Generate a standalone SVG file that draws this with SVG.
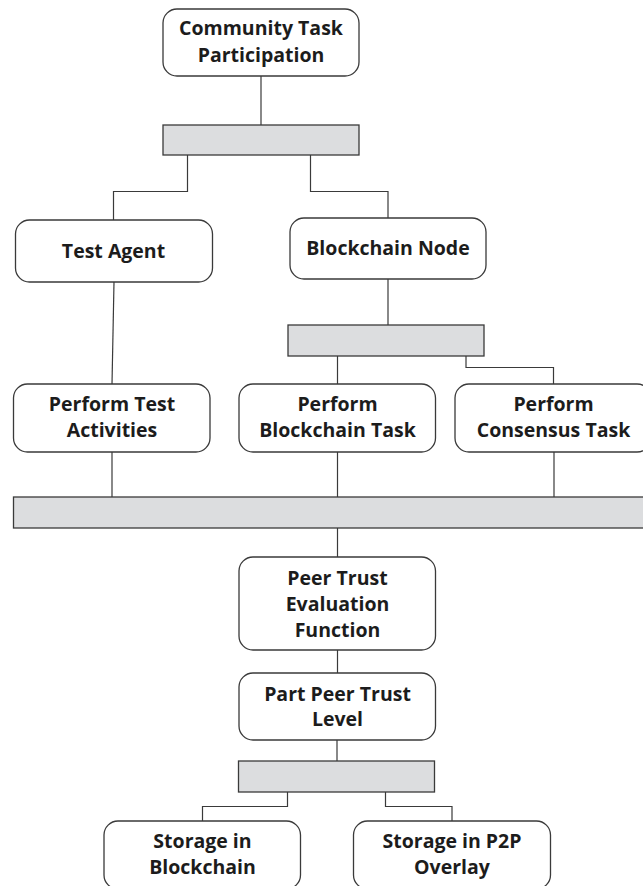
<svg xmlns="http://www.w3.org/2000/svg" width="643" height="886" viewBox="0 0 643 886">
<style>
.box{fill:#fff;stroke:#3a3a3a;stroke-width:1.3}
.bar{fill:#dcdddf;stroke:#3a3a3a;stroke-width:1.3}
.lbl{font-family:"Open Sans","Noto Sans","Liberation Sans",sans-serif;font-weight:700;font-size:19.5px;fill:#1c1c1c;text-anchor:middle}
#connectors path,#connectors line{fill:none;stroke:#3a3a3a;stroke-width:1.2}
</style>
<rect width="643" height="886" fill="#fff"/>
<g id="connectors">
<line x1="261" y1="76" x2="261" y2="125"/>
<path d="M187.5 155 V191.5 H113.5 V220"/>
<path d="M310.5 155 V191.5 H388 V218"/>
<line x1="114" y1="282" x2="112" y2="384"/>
<line x1="388" y1="279" x2="388" y2="325"/>
<path d="M337.5 356 V384"/>
<path d="M466 356 V367.5 H553.5 V384"/>
<line x1="112" y1="452" x2="112" y2="497"/>
<line x1="337.5" y1="452" x2="337.5" y2="497"/>
<line x1="554" y1="452" x2="554" y2="497"/>
<line x1="337.5" y1="528" x2="337.5" y2="557"/>
<line x1="337.5" y1="650" x2="337.5" y2="673"/>
<line x1="337" y1="740" x2="337" y2="761"/>
<path d="M287.5 792 V806.5 H202.5 V821"/>
<path d="M385.5 792 V806.5 H452 V821"/>
</g>
<g id="bar1"><rect class="bar" x="163" y="125" width="196" height="30"/></g>
<g id="bar2"><rect class="bar" x="288" y="325" width="196" height="31"/></g>
<g id="bar3"><rect class="bar" x="13.5" y="497" width="640" height="31"/></g>
<g id="bar4"><rect class="bar" x="238.5" y="761" width="196" height="31"/></g>
<g id="n-community"><rect class="box" x="163" y="9" width="196" height="67" rx="14"/>
<text class="lbl" x="261" y="35">Community Task</text><text class="lbl" x="261" y="62">Participation</text></g>
<g id="n-testagent"><rect class="box" x="15.5" y="220" width="197" height="62" rx="14"/>
<text class="lbl" x="113.5" y="257.5">Test Agent</text></g>
<g id="n-blockchainnode"><rect class="box" x="290" y="218" width="196" height="61" rx="14"/>
<text class="lbl" x="388" y="255">Blockchain Node</text></g>
<g id="n-performtest"><rect class="box" x="13.5" y="384" width="196.5" height="68" rx="14"/>
<text class="lbl" x="112" y="411">Perform Test</text><text class="lbl" x="112" y="437">Activities</text></g>
<g id="n-performblockchain"><rect class="box" x="239" y="384" width="196.5" height="68" rx="14"/>
<text class="lbl" x="337.5" y="411">Perform</text><text class="lbl" x="337.5" y="437">Blockchain Task</text></g>
<g id="n-performconsensus"><rect class="box" x="455" y="384" width="196" height="68" rx="14"/>
<text class="lbl" x="553.5" y="411">Perform</text><text class="lbl" x="553.5" y="437">Consensus Task</text></g>
<g id="n-peertrusteval"><rect class="box" x="239" y="557" width="196.5" height="93" rx="14"/>
<text class="lbl" x="337.5" y="584.5">Peer Trust</text><text class="lbl" x="337.5" y="610.5">Evaluation</text><text class="lbl" x="337.5" y="636.5">Function</text></g>
<g id="n-partpeertrust"><rect class="box" x="239" y="673" width="196.5" height="67" rx="14"/>
<text class="lbl" x="337.5" y="700.5">Part Peer Trust</text><text class="lbl" x="337.5" y="726">Level</text></g>
<g id="n-storageblockchain"><rect class="box" x="104" y="821" width="196.5" height="68" rx="14"/>
<text class="lbl" x="202.5" y="848">Storage in</text><text class="lbl" x="202.5" y="873.5">Blockchain</text></g>
<g id="n-storagep2p"><rect class="box" x="353.5" y="821" width="197" height="68" rx="14"/>
<text class="lbl" x="452" y="848">Storage in P2P</text><text class="lbl" x="452" y="873.5">Overlay</text></g>
</svg>
